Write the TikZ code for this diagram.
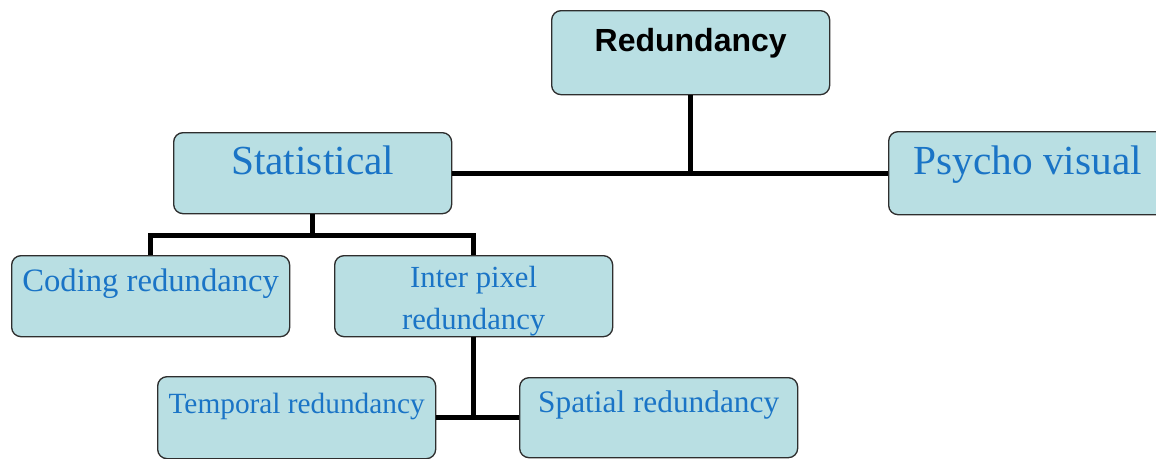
\documentclass[tikz,border=0pt]{standalone}
\usepackage{fontspec}
\setmainfont{Liberation Serif}
\newfontfamily\headfont{Liberation Sans}
\definecolor{rdfill}{HTML}{B9DFE3}
\definecolor{rdedge}{HTML}{2E2E2E}
\definecolor{rdtext}{HTML}{1A74C6}

\tikzset{
  box/.style={rectangle, draw=rdedge, fill=rdfill, line width=1pt, rounded corners=7pt,
    inner sep=0pt, minimum width=208.5pt, anchor=north west, align=center},
  headbox/.style={box, text height=30.75pt, text depth=32.25pt,
    font=\headfont\bfseries\fontsize{24}{28}\selectfont},
  bigbox/.style={box, text=rdtext, text height=31.5pt, text depth=29.25pt,
    font=\fontsize{31}{36}\selectfont},
  smallbox/.style={box, text=rdtext, text height=27pt, text depth=33.75pt,
    font=\fontsize{23}{31.5}\selectfont},
  link/.style={line width=3.5pt, black}
}

\begin{document}
\begin{tikzpicture}[x=0.75pt, y=-0.75pt]
  \useasboundingbox (0,0) rectangle (1156,458);

  \node[headbox] (redun) at (551,10) {Redundancy};
  \node[bigbox] (stat) at (173,132) {Statistical};
  \node[bigbox, text height=32.25pt, text depth=30pt] (psy) at (888,131) {Psycho visual};
  \node[smallbox, font=\fontsize{24.5}{31.5}\selectfont] (code) at (11,255) {Coding redundancy};
  \node[smallbox, text height=55.5pt, text depth=5.25pt] (inter) at (334,255) {Inter pixel\\redundancy};
  \node[smallbox, font=\fontsize{22}{31.5}\selectfont, text height=27.75pt] (temp) at (157,376) {Temporal redundancy};
  \node[smallbox, font=\fontsize{23.5}{31.5}\selectfont, text height=26.25pt] (spat) at (519,377) {Spatial redundancy};

  \path (stat.south) ++(0,21) coordinate (split);

  % upper level
  \draw[link] (stat.east) -- (psy.west);
  \draw[link] (redun.south) -- (redun.south |- stat.east);
  % statistical branch
  \draw[link] (stat.south) -- (split);
  \draw[link] (code.north) |- (split) -| (inter.north);
  % inter pixel branch
  \draw[link] (temp.east) -- (temp.east -| spat.west);
  \draw[link] (inter.south) -- (inter.south |- temp.east);
\end{tikzpicture}
\end{document}
